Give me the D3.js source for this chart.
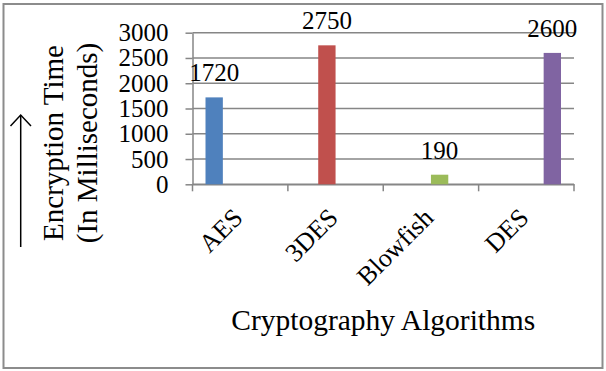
<!DOCTYPE html>
<html lang="en">
<head>
<meta charset="utf-8">
<title>Encryption Time</title>
<script src="https://d3js.org/d3.v7.min.js" charset="utf-8"></script>
<style>
 body { margin: 0; background: #fff; }
 svg text { font-family: "Liberation Serif", "Times New Roman", serif; fill: #000; }
 .yaxis .tick text { font-size: 25px; }
 .xaxis .tick text { font-size: 26px; }
</style>
</head>
<body>
<script type="text/javascript">

 // Chart data
 var categories = ["AES", "3DES", "Blowfish", "DES"];
 var times = [1720, 2750, 190, 2600];
 var yTicks = [0, 500, 1000, 1500, 2000, 2500, 3000];

 var data = categories.map(function (c, i) { return {name: c, value: times[i]}; });

 var W = 606, H = 371;
 var plot = {left: 192.5, right: 574, top: 32.7, bottom: 184.3};

 var svg = d3.select("body").append("svg")
     .attr("width", W)
     .attr("height", H);

 // outer frame
 svg.append("rect")
    .attr("x", 3.5).attr("y", 4)
    .attr("width", 599).attr("height", 364)
    .attr("fill", "#fff")
    .attr("stroke", "#8c8c8c")
    .attr("stroke-width", 2);

 var x = d3.scaleBand()
     .domain(categories)
     .range([plot.left, plot.right])
     .padding(0);

 // each algorithm is its own series, so bars sit in a cluster slot
 var x1 = d3.scaleBand()
     .domain(categories)
     .range([0, x.bandwidth()])
     .paddingOuter(0.75)
     .paddingInner(0);

 var y = d3.scaleLinear()
     .domain([0, 3000])
     .range([plot.bottom, plot.top]);

 var color = d3.scaleOrdinal()
     .domain(categories)
     .range(["#4f81bd", "#c0504d", "#9bbb59", "#8064a2"]);

 //Gridlines
 svg.append("g")
    .selectAll("line")
    .data(yTicks)
    .enter()
    .append("line")
    .attr("x1", plot.left)
    .attr("x2", plot.right)
    .attr("y1", function (d) { return y(d); })
    .attr("y2", function (d) { return y(d); })
    .attr("stroke", "#868686")
    .attr("stroke-width", 1.5);

 //Y axis
 var yAxis = svg.append("g")
     .attr("class", "yaxis")
     .attr("transform", "translate(" + plot.left + ",0)")
     .call(d3.axisLeft(y)
         .tickValues(yTicks)
         .tickFormat(d3.format("d"))
         .tickSizeInner(7)
         .tickSizeOuter(0)
         .tickPadding(17));
 yAxis.attr("font-family", null).attr("font-size", null);
 yAxis.selectAll("path, line").attr("stroke", "#868686").attr("stroke-width", 1.5);

 //X axis
 var xAxis = svg.append("g")
     .attr("class", "xaxis")
     .attr("transform", "translate(0," + plot.bottom + ")")
     .call(d3.axisBottom(x).tickSize(0).tickPadding(0));
 xAxis.attr("font-family", null).attr("font-size", null);
 xAxis.select("path").attr("stroke", "#868686").attr("stroke-width", 1.5);
 xAxis.selectAll("text")
      .attr("text-anchor", "end")
      .attr("dy", 0)
      .attr("y", 0)
      .attr("transform", "translate(4,35) rotate(-45)");

 // tick marks on the band edges
 var edges = categories.map(function (c) { return x(c); }).concat([x.range()[1]]);
 svg.append("g")
    .selectAll("line")
    .data(edges)
    .enter()
    .append("line")
    .attr("x1", function (d) { return d; })
    .attr("x2", function (d) { return d; })
    .attr("y1", plot.bottom)
    .attr("y2", plot.bottom + 7)
    .attr("stroke", "#868686")
    .attr("stroke-width", 1.5);

 //Bars
 svg.append("g")
    .selectAll("rect")
    .data(data)
    .enter()
    .append("rect")
    .attr("x", function (d) { return x(d.name) + x1(d.name); })
    .attr("y", function (d) { return y(d.value); })
    .attr("width", x1.bandwidth())
    .attr("height", function (d) { return y(0) - y(d.value); })
    .attr("fill", function (d) { return color(d.name); });

 //Value labels
 svg.append("g")
    .selectAll("text")
    .data(data)
    .enter()
    .append("text")
    .attr("x", function (d) { return x(d.name) + x1(d.name) + x1.bandwidth() / 2; })
    .attr("y", function (d) { return y(d.value) - 16; })
    .attr("text-anchor", "middle")
    .style("font-size", "25px")
    .text(function (d) { return d.value; });

 //Axis titles
 svg.append("text")
    .attr("x", (plot.left + plot.right) / 2)
    .attr("y", 330)
    .attr("text-anchor", "middle")
    .style("font-size", "29.5px")
    .text("Cryptography Algorithms");

 var yTitle = svg.append("text")
     .attr("transform", "translate(0,143) rotate(-90)")
     .attr("text-anchor", "middle")
     .style("font-size", "29px");
 yTitle.append("tspan").attr("x", 0).attr("y", 62.5).text("Encryption Time");
 yTitle.append("tspan").attr("x", 0).attr("y", 96.5).text("(In Milliseconds)");

 // arrow beside the y title
 svg.append("line")
    .attr("x1", 20.7).attr("x2", 20.7)
    .attr("y1", 247).attr("y2", 115)
    .attr("stroke", "#000")
    .attr("stroke-width", 1.5);
 svg.append("path")
    .attr("d", "M10.5,126 L20.7,115 L31,126")
    .attr("fill", "none")
    .attr("stroke", "#000")
    .attr("stroke-width", 1.5);

</script>
</body>
</html>
